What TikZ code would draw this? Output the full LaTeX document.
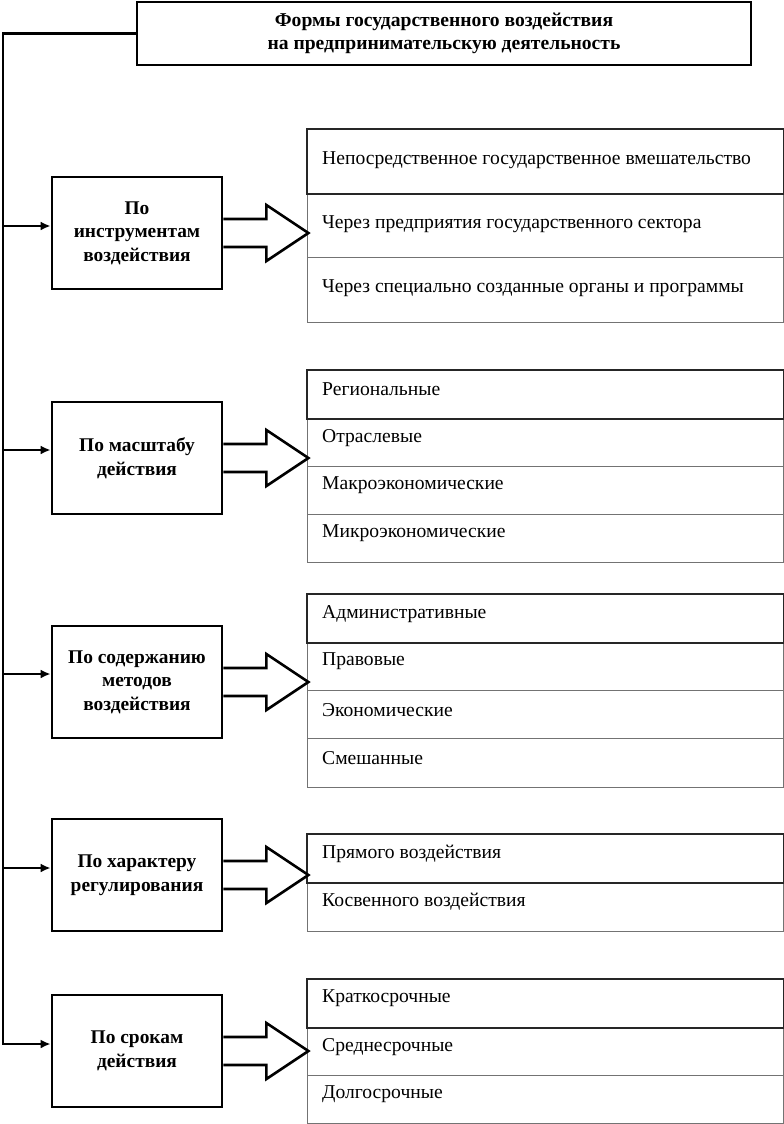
\documentclass[tikz,border=0pt]{standalone}
\usepackage{fontspec}
\setmainfont{Liberation Serif}
\usetikzlibrary{calc,arrows.meta}
\tikzset{
  catbox/.style={draw=black, line width=2.8pt, minimum width=170pt, minimum height=112pt, align=center, font=\fontsize{19.4}{23.5}\selectfont\bfseries, inner sep=0pt},
  topbox/.style={draw=black, line width=2.8pt, minimum width=614pt, minimum height=63pt, align=center, font=\fontsize{19.6}{23}\selectfont\bfseries, inner sep=0pt},
  rowbox/.style={draw=black!55, line width=1.3pt, minimum width=476pt, inner sep=0pt, anchor=north west},
  firstframe/.style={draw=black!85, line width=1.7pt},
  rowtext/.style={anchor=west, font=\fontsize{19.6}{23}\selectfont, inner sep=0pt},
  spine/.style={line width=2.8pt, line cap=rect},
  feed/.style={line width=2.6pt, -{Latex[length=10pt,width=9pt]}},
  bigarrow/.style={line width=2.6pt, line join=miter, fill=white}
}
\begin{document}
\begin{tikzpicture}[x=1pt,y=-1pt]
\useasboundingbox (0,0) rectangle (784,1124);

% title
\node[topbox] (top) at (444,33.5) {Формы государственного воздействия\\на предпринимательскую деятельность};

% category boxes
\node[catbox] (b1) at (137,233) {По\\инструментам\\воздействия};
\node[catbox] (b2) at (137,458) {По масштабу\\действия};
\node[catbox] (b3) at (137,682) {По содержанию\\методов\\воздействия};
\node[catbox] (b4) at (137,875) {По характеру\\регулирования};
\node[catbox] (b5) at (137,1051) {По срокам\\действия};

% spine
\coordinate (s0) at (3,33.5);
\coordinate (s1) at (3,226);
\coordinate (s2) at (3,450);
\coordinate (s3) at (3,674);
\coordinate (s4) at (3,868);
\coordinate (s5) at (3,1044);
\draw[spine] (top.west) -- (s0) -- (s5);
\foreach \i in {1,...,5} {
  \draw[feed] (s\i) -- (s\i -| b\i.west);
}

% list 1
\node[rowbox, minimum height=64pt] (r11) at (307,129) {};
\node[rowbox, minimum height=64pt] (r12) at (307,193) {};
\node[rowbox, minimum height=65pt] (r13) at (307,257) {};
\draw[firstframe] (r11.north west) rectangle (r11.south east);
\node[rowtext] at ($(r11.west)+(15,-1)$) {Непосредственное государственное вмешательство};
\node[rowtext] at ($(r12.west)+(15,-1)$) {Через предприятия государственного сектора};
\node[rowtext] at ($(r13.west)+(15,-2)$) {Через специально созданные органы и программы};

% list 2
\node[rowbox, minimum height=48pt] (r21) at (307,370) {};
\node[rowbox, minimum height=48pt] (r22) at (307,418) {};
\node[rowbox, minimum height=48pt] (r23) at (307,466) {};
\node[rowbox, minimum height=48pt] (r24) at (307,514) {};
\draw[firstframe] (r21.north west) rectangle (r21.south east);
\node[rowtext] at ($(r21.west)+(15,-5)$) {Региональные};
\node[rowtext] at ($(r22.west)+(15,-5)$) {Отраслевые};
\node[rowtext] at ($(r23.west)+(15,-5)$) {Макроэкономические};
\node[rowtext] at ($(r24.west)+(15,-5)$) {Микроэкономические};

% list 3
\node[rowbox, minimum height=48pt] (r31) at (307,594) {};
\node[rowbox, minimum height=48pt] (r32) at (307,642) {};
\node[rowbox, minimum height=48pt] (r33) at (307,690) {};
\node[rowbox, minimum height=49pt] (r34) at (307,738) {};
\draw[firstframe] (r31.north west) rectangle (r31.south east);
\node[rowtext] at ($(r31.west)+(15,-5)$) {Административные};
\node[rowtext] at ($(r32.west)+(15,-5)$) {Правовые};
\node[rowtext] at ($(r33.west)+(15,-5)$) {Экономические};
\node[rowtext] at ($(r34.west)+(15,-5)$) {Смешанные};

% list 4
\node[rowbox, minimum height=48pt] (r41) at (307,834) {};
\node[rowbox, minimum height=49pt] (r42) at (307,882) {};
\draw[firstframe] (r41.north west) rectangle (r41.south east);
\node[rowtext] at ($(r41.west)+(15,-5)$) {Прямого воздействия};
\node[rowtext] at ($(r42.west)+(15,-5)$) {Косвенного воздействия};

% list 5
\node[rowbox, minimum height=48pt] (r51) at (307,979) {};
\node[rowbox, minimum height=48pt] (r52) at (307,1027) {};
\node[rowbox, minimum height=48pt] (r53) at (307,1075) {};
\draw[firstframe] (r51.north west) rectangle (r51.south east);
\node[rowtext] at ($(r51.west)+(15,-5)$) {Краткосрочные};
\node[rowtext] at ($(r52.west)+(15,-5)$) {Среднесрочные};
\node[rowtext] at ($(r53.west)+(15,-5)$) {Долгосрочные};

% block arrows from category boxes to lists
\foreach \i in {1,...,5} {
  \draw[bigarrow] ($(b\i.east)+(0,-14)$) -- ++(43,0) -- ++(0,-14) -- ++(42,28) -- ++(-42,28) -- ++(0,-14) -- ++(-43,0);
}
\end{tikzpicture}
\end{document}
